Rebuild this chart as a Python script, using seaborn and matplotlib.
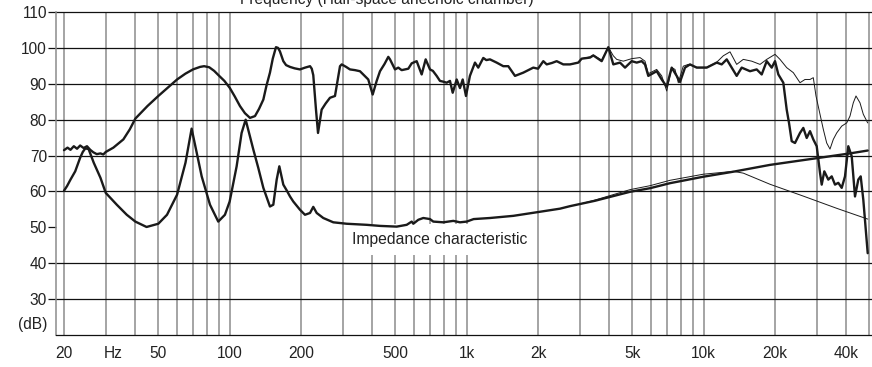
import matplotlib
matplotlib.use("Agg")
import matplotlib.pyplot as plt
from matplotlib.ticker import NullLocator, NullFormatter
import pandas as pd
import seaborn as sns

# ---------------- data ----------------
# Sound pressure, main measurement (thick line)
spl_freq = [20, 20.7, 21.3, 22.0, 22.7, 23.4, 24.2, 25.0, 25.8, 26.6, 27.5, 28.5, 29.3, 30.0,
            32.3, 35.6, 37.9, 40.0, 45.0, 50, 55, 60, 65, 70, 75, 78, 82, 86, 90, 95, 100,
            105, 110.5, 116, 121.8, 127.9, 133, 138.7, 143, 147.9, 152, 156.8, 160, 163,
            168.4, 173, 179.7, 188, 198, 208, 218.3, 222, 225.3, 231.3, 235.9, 244.4, 254,
            265, 278.2, 292.1, 297, 310, 321.8, 338, 354.6, 384.4, 401.2, 417.1, 430.8, 450,
            467, 474.8, 498.4, 514.6, 531.8, 550, 567.2, 586.2, 615.2, 645.8, 671.4, 700,
            720, 747, 771.4, 795, 823.3, 850.1, 873, 907.6, 937.1, 962.1, 993.2, 1032, 1084,
            1119, 1175, 1210, 1254, 1338, 1427, 1498, 1550, 1599, 1733, 1910, 2000, 2105,
            2176, 2290, 2397, 2556, 2729, 2957, 3057, 3314, 3422, 3712, 3959, 4156, 4436,
            4657, 4969, 5216, 5474, 5654, 5838, 6334, 6650, 6982, 7328, 7693, 7943, 8340,
            8755, 9344, 10297, 11348, 11912, 12507, 13778, 14464, 15684, 16736, 17570,
            18445, 19364, 19995, 20650, 21674, 22398, 22907, 23516, 24279, 25487, 26323,
            27203, 28090, 29003, 29980, 30955, 31473, 32279, 33553, 34684, 35810, 36977,
            38221, 39465, 40750, 42123, 43493, 44909, 45967, 47143, 48395, 49204]
spl_db = [71.5, 72.2, 71.6, 72.6, 71.9, 72.8, 72.1, 72.6, 71.6, 70.9, 70.4, 70.6, 70.3, 71.0,
          72.2, 74.5, 77.3, 80.3, 83.8, 86.6, 89.0, 91.2, 92.8, 94.0, 94.7, 94.9, 94.6, 93.6,
          92.3, 90.8, 88.9, 86.5, 83.8, 81.8, 80.5, 81.0, 83.0, 85.6, 89.5, 93.1, 97.0, 100.2,
          100.0, 99.0, 96.3, 95.2, 94.7, 94.3, 94.0, 94.5, 94.9, 94.2, 92.4, 82.8, 76.3, 82.8,
          84.5, 86.1, 86.6, 94.9, 95.4, 94.7, 94.0, 93.8, 93.5, 91.2, 87.0, 90.8, 93.5, 95.5,
          97.5, 96.8, 94.0, 94.5, 93.8, 94.0, 94.2, 95.7, 96.3, 92.6, 96.8, 94.0, 93.6, 92.2,
          90.8, 90.6, 90.3, 90.8, 87.5, 91.2, 88.8, 91.2, 86.6, 92.2, 95.9, 94.5, 97.2, 96.6,
          96.8, 95.9, 94.9, 94.9, 93.5, 92.2, 93.1, 94.5, 94.2, 96.3, 95.4, 95.8, 96.3, 95.4,
          95.4, 95.9, 97.0, 97.3, 97.9, 96.3, 100.2, 95.4, 95.9, 94.5, 96.3, 95.9, 96.3, 95.4,
          92.2, 93.5, 91.2, 89.2, 94.5, 92.2, 90.5, 94.5, 95.4, 94.5, 94.5, 95.9, 95.4, 96.8,
          92.2, 94.5, 93.5, 94.0, 92.6, 96.3, 94.5, 96.3, 92.6, 90.3, 82.8, 79.1, 74.0, 73.5,
          76.3, 77.7, 74.9, 76.8, 74.5, 72.6, 65.2, 61.9, 65.6, 63.3, 64.2, 61.9, 62.4, 61.0,
          64.2, 72.6, 69.8, 58.6, 63.3, 64.2, 57.7, 48.5, 42.8]

# Sound pressure, second measurement (thin line)
spl2_freq = [2729, 2957, 3057, 3314, 3422, 3712, 3959, 4156, 4295, 4580, 4969, 5385, 5654,
             5838, 6334, 6650, 6982, 7328, 7567, 7813, 8201, 8610, 9344, 10297, 11348,
             12097, 12912, 13778, 14693, 15941, 17285, 18445, 19995, 20988, 22398, 23886,
             25487, 26753, 28090, 29003, 29774, 30955, 31968, 33036, 34111, 35222, 36409,
             38221, 40124, 41427, 42774, 43911, 45652, 47143, 49204]
spl2_db = [95.4, 95.9, 97.0, 97.5, 98.0, 96.6, 100.2, 97.8, 96.8, 96.3, 97.0, 97.3, 96.3,
           92.8, 94.0, 92.2, 88.0, 94.5, 94.0, 90.3, 94.9, 95.4, 94.6, 94.6, 96.0,
           97.8, 98.9, 95.4, 96.8, 96.3, 95.4, 96.8, 98.2, 96.8, 94.5, 93.1,
           90.3, 91.2, 91.2, 91.7, 86.6, 81.5, 77.3, 73.5, 71.8, 74.5, 76.3,
           78.2, 79.1, 81.0, 84.7, 86.6, 84.7, 81.5, 79.1]

# Impedance, main measurement (thick line)
imp_freq = [20, 20.6, 21.3, 22.3, 23.4, 24.0, 24.6, 25.4, 26.7, 28.5, 30, 33.4, 36.8, 40,
            44.6, 50, 54.4, 60, 65.1, 69.1, 72.6, 76.2, 82.6, 89.5, 95.5, 100, 107, 112.3,
            116.8, 125.8, 132.0, 138.7, 147.9, 152.8, 157.9, 162.0, 168.4, 174.0, 179.7,
            185.5, 198.0, 207.8, 218.3, 225.3, 232.9, 248.3, 273.6, 311.6, 378.6, 430.8,
            506.6, 558.4, 586.2, 595.4, 625.0, 656.0, 700, 723.0, 796.9, 878.1, 937, 1000,
            1070, 1254, 1573, 1975, 2476, 2729, 3007, 3479, 4887, 5934, 7205, 9961, 13334,
            19045, 29490, 41427, 49204]
imp_db = [60.2, 61.5, 63.3, 65.6, 69.4, 71.0, 72.0, 71.8, 68.0, 63.8, 59.6, 56.3, 53.5, 51.6,
          50.1, 51.0, 53.5, 59.1, 68.0, 77.5, 70.8, 64.2, 56.3, 51.6, 53.5, 57.2, 67.0, 76.3,
          80.0, 71.7, 66.6, 61.0, 55.8, 56.3, 63.3, 67.0, 61.9, 60.3, 58.6,
          57.2, 54.9, 53.5, 54.0, 55.7, 54.0, 52.6, 51.4, 51.0, 50.7, 50.4,
          50.2, 50.7, 51.6, 51.0, 52.1, 52.6, 52.3, 51.6, 51.4, 51.8, 51.4, 51.6,
          52.3, 52.6, 53.2, 54.2, 55.2, 55.9, 56.5, 57.4, 59.9, 60.9, 62.3, 64.1, 65.5,
          67.4, 69.2, 70.6, 71.4]

# Impedance, second measurement (thin line)
imp2_freq = [3007, 3479, 4887, 5934, 7205, 9961, 13334, 14693, 19045, 26323, 36409, 49204]
imp2_db = [56.5, 57.6, 60.5, 61.6, 63.1, 64.8, 65.6, 65.1, 62.0, 58.7, 55.3, 52.3]

# axes furniture
grid_freqs = [20, 30, 40, 50, 60, 70, 80, 90, 100, 200, 300, 400, 500, 600, 700, 800, 900,
              1000, 2000, 3000, 4000, 5000, 6000, 7000, 8000, 9000, 10000, 20000, 30000,
              40000, 50000]
grid_db = [30, 40, 60, 70, 80, 90, 100, 110]
xtick_vals = [20, 32.2, 50, 100, 200, 500, 1000, 2000, 5000, 10000, 20000, 40000]
xtick_labels = ["20", "Hz", "50", "100", "200", "500", "1k", "2k", "5k", "10k", "20k", "40k"]
ytick_vals = [23.3, 30, 40, 50, 60, 70, 80, 90, 100, 110]
ytick_labels = ["(dB)", "30", "40", "50", "60", "70", "80", "90", "100", "110"]
title_text = "Frequency (Half-space anechoic chamber)"
imp_label = "Impedance characteristic"
imp_label_pos = (768, 46.6)

# ---------------- styling ----------------
sns.set_style("white")
plt.rcParams["font.family"] = ["Liberation Sans", "DejaVu Sans"]

W, H = 872, 367
fig = plt.figure(figsize=(W / 100, H / 100), dpi=100)
fig.patch.set_facecolor("white")
ax = fig.add_axes([55.7 / W, 1 - 335 / H, 1 - 55.7 / W, 323 / H])
ax.set_xscale("log")
ax.set_xlim(18.45, 51300)
ax.set_ylim(20, 110)

ink = "#1a1a1a"
txt = "#222222"

for f in grid_freqs:
    ax.axvline(f, color="#8c8c8c", lw=1.1, zorder=1)
for d in grid_db:
    ax.axhline(d, color="#111111", lw=0.9, zorder=1.2, clip_on=False)

df_spl = pd.DataFrame({"freq": spl_freq, "db": spl_db})
df_spl2 = pd.DataFrame({"freq": spl2_freq, "db": spl2_db})
df_imp = pd.DataFrame({"freq": imp_freq, "db": imp_db})
df_imp2 = pd.DataFrame({"freq": imp2_freq, "db": imp2_db})

sns.lineplot(data=df_spl2, x="freq", y="db", ax=ax, color=ink, lw=0.7,
             estimator=None, sort=False, zorder=4)
sns.lineplot(data=df_imp2, x="freq", y="db", ax=ax, color=ink, lw=0.7,
             estimator=None, sort=False, zorder=4)
sns.lineplot(data=df_imp, x="freq", y="db", ax=ax, color=ink, lw=1.7,
             estimator=None, sort=False, zorder=5)
sns.lineplot(data=df_spl, x="freq", y="db", ax=ax, color=ink, lw=1.7,
             estimator=None, sort=False, zorder=5)

ax.set_xlabel("")
ax.set_ylabel("")

ax.set_xticks(xtick_vals)
ax.set_xticklabels(xtick_labels)
ax.xaxis.set_minor_locator(NullLocator())
ax.xaxis.set_minor_formatter(NullFormatter())
ax.tick_params(axis="x", which="both", bottom=True, length=0, pad=8,
               labelsize=11.2, labelcolor=txt)

ax.set_yticks(ytick_vals)
ax.set_yticklabels(ytick_labels)
ax.tick_params(axis="y", left=True, length=5.5, width=0.9, color="#111111",
               pad=0.8, labelsize=11.2, labelcolor=txt, direction="out")
ax.yaxis.get_major_ticks()[0].tick1line.set_visible(False)

for s in ("top", "right"):
    ax.spines[s].set_visible(False)
ax.spines["left"].set_color("#8c8c8c")
ax.spines["left"].set_linewidth(1.1)
ax.spines["bottom"].set_color("#111111")
ax.spines["bottom"].set_linewidth(0.9)

ax.text(imp_label_pos[0], imp_label_pos[1], imp_label, ha="center", va="center",
        fontsize=11.3, color=txt, zorder=3,
        bbox=dict(boxstyle="square,pad=0.5", facecolor="white", edgecolor="none"))

# chart title: in the reference it sits above the picture's top edge, only its lower part shows
fig.text(0.444, 1 - 4.0 / H, title_text, ha="center", va="baseline",
         fontsize=11.2, color=txt)

fig.savefig("out.png", dpi=100, facecolor="white")
